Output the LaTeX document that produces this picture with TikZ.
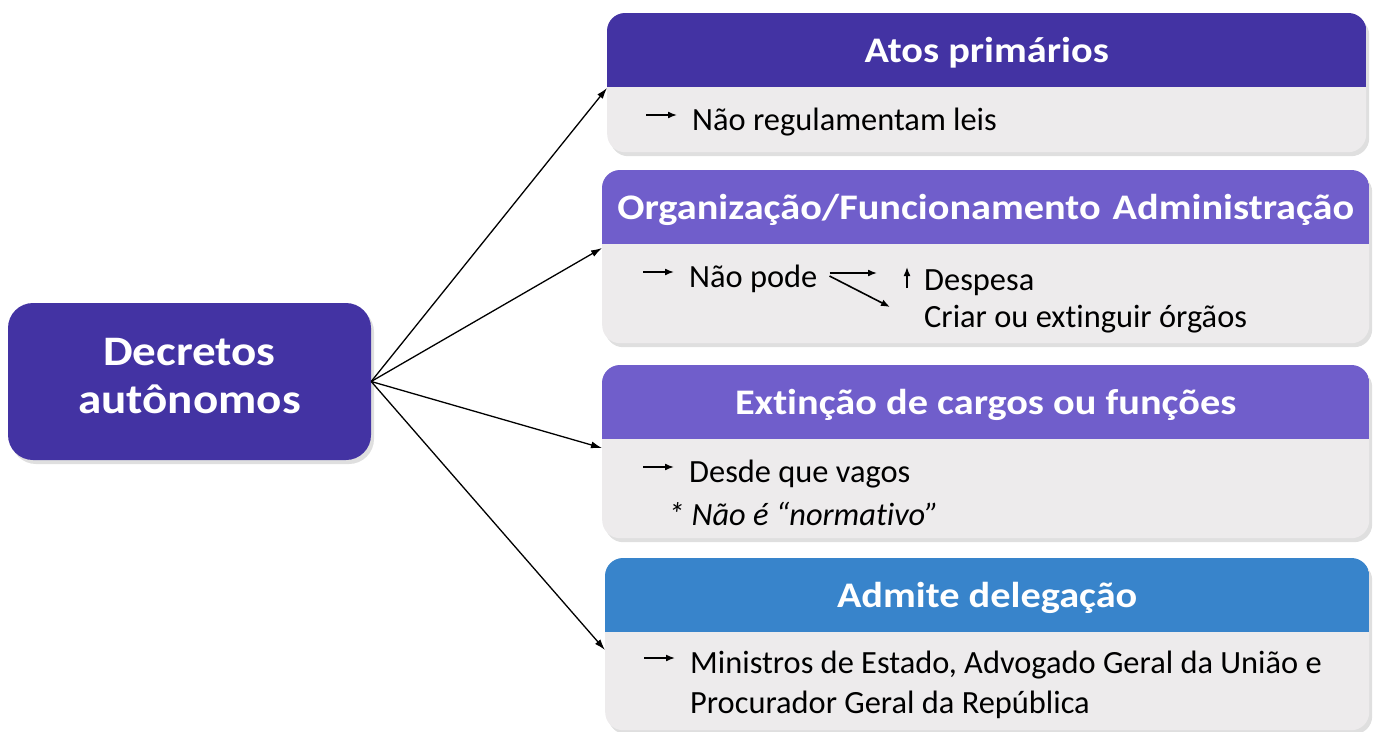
\documentclass[tikz,border=0pt]{standalone}
\usepackage{fontspec}
\setmainfont{Carlito}[Ligatures=NoCommon]
\newfontfamily\widefont{Carlito}[Ligatures=NoCommon,FakeStretch=1.12]
\usetikzlibrary{arrows.meta,shadows}

\definecolor{deepindigo}{HTML}{4333A3}
\definecolor{lavender}{HTML}{705ECB}
\definecolor{skyblue}{HTML}{3884CB}
\definecolor{cardgray}{HTML}{EDEBEC}

\begin{document}
\begin{tikzpicture}[x=1pt,y=-1pt,
    card/.style={rectangle,rounded corners=18pt,fill=cardgray,inner sep=0,anchor=north west,
      drop shadow={shadow xshift=3pt,shadow yshift=-4pt,opacity=0.25}},
    cardtitle/.style={text=white,font=\widefont\fontsize{36}{42}\selectfont\bfseries,anchor=base,inner sep=0},
    cardtext/.style={font=\fontsize{32.4}{38}\selectfont,anchor=base west,inner sep=0},
    link/.style={line width=1.3pt,-{Latex[length=11pt,width=7pt]}},
    pointer/.style={line width=1.6pt,-{Latex[length=9pt,width=7pt]}}]
    \pgfmathsetmacro{\headheight}{74}
    \pgfmathsetmacro{\titledrop}{49}
    \useasboundingbox (0,0) rectangle (1376,731);

    % main box
    \node[rectangle,rounded corners=25pt,fill=deepindigo,text=white,align=center,
      minimum width=363pt,minimum height=157pt,text depth=12pt,
      font=\widefont\fontsize{42}{48}\selectfont\bfseries,
      drop shadow={shadow xshift=3pt,shadow yshift=-4pt,opacity=0.25}]
      (dec) at (189.5,381.5) {Decretos\\autônomos};

    % cards
    \node[card,minimum width=759pt,minimum height=139pt] (c1) at (607,13) {};
    \node[card,minimum width=767pt,minimum height=173pt] (c2) at (602,170) {};
    \node[card,minimum width=767pt,minimum height=173pt] (c3) at (602,365) {};
    \node[card,minimum width=764pt,minimum height=172pt] (c4) at (605,558) {};

    \foreach \c/\col in {c1/deepindigo,c2/lavender,c3/lavender,c4/skyblue}{
      \begin{scope}
        \clip[rounded corners=18pt] (\c.north west) rectangle (\c.south east);
        \fill[\col] (\c.north west) rectangle ([yshift=-\headheight pt]\c.north east);
      \end{scope}
    }

    % titles
    \node[cardtitle] (t1) at ([yshift=-\titledrop pt]c1.north) {Atos primários};
    \node[cardtitle] (t2) at ([yshift=-\titledrop pt]c2.north) {Organização/Funcionamento\hspace{12pt}Administração};
    \node[cardtitle] (t3) at ([yshift=-\titledrop pt]c3.north) {Extinção de cargos ou funções};
    \node[cardtitle] (t4) at ([yshift=-\titledrop pt]c4.north) {Admite delegação};

    % card texts
    \node[cardtext] (nreg) at (692,130) {Não regulamentam leis};
    \node[cardtext] (npode) at (689,287) {Não pode};
    \node[cardtext] (ndesp) at (924,290) {Despesa};
    \node[cardtext] (ncriar) at (924,327) {Criar ou extinguir órgãos};
    \node[cardtext] (nvagos) at (689,482) {Desde que vagos};
    \node[cardtext,font=\fontsize{32.4}{38}\selectfont\itshape] (nnorm) at (668,525) {* Não é “normativo”};
    \node[cardtext] (nmin) at (690,673) {Ministros de Estado, Advogado Geral da União e};
    \node[cardtext] (nproc) at (690,713) {Procurador Geral da República};

    % bullets
    \foreach \n in {nreg,npode,nvagos,nmin}
      \draw[pointer] ([xshift=-46pt,yshift=15pt]\n.base west) -- ++(31,0);
    \draw[pointer] ([xshift=12pt,yshift=14pt]npode.base east) -- ([xshift=-47pt,yshift=17pt]ndesp.base west);
    \draw[pointer] ([xshift=12pt,yshift=11pt]npode.base east) -- ([xshift=-34pt,yshift=20pt]ncriar.base west);
    \draw[pointer] ([xshift=-17pt,yshift=2pt]ndesp.base west) -- ++(0,-21);

    % connectors
    \coordinate (in1) at ([yshift=-75pt]c1.north west);
    \coordinate (in2) at ([yshift=-78pt]c2.north west);
    \coordinate (in3) at ([yshift=-83pt]c3.north west);
    \coordinate (in4) at ([yshift=-92pt]c4.north west);
    \foreach \i in {1,...,4}
      \draw[link] (dec.east) -- (in\i);
\end{tikzpicture}
\end{document}
